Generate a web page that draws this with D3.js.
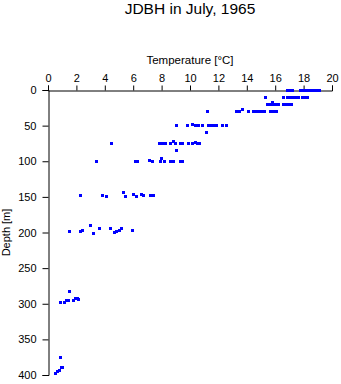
<!DOCTYPE html>
<html>
<head>
<meta charset="utf-8">
<script src="https://cdn.jsdelivr.net/npm/d3@7"></script>
<style>
  html, body { margin: 0; padding: 0; background: #fff; }
  svg { display: block; font-family: "Liberation Sans", Arial, Helvetica, sans-serif; }
</style>
</head>
<body>
<svg id="chart" width="341" height="384"></svg>
<script>
// Station JDBH temperature profile, July 1965
const title = "JDBH in July, 1965";
const xLabel = "Temperature [°C]";
const yLabel = "Depth [m]";
const tempTicks = [0, 2, 4, 6, 8, 10, 12, 14, 16, 18, 20];
const depthTicks = [0, 50, 100, 150, 200, 250, 300, 350, 400];

// Observations: temperature [°C] and depth [m], paired by index
const temperature = [
  // near surface
  16.9, 17.0, 17.25, 17.75, 17.95, 18.15, 18.35, 18.55, 18.75, 18.9, 19.1,
  // ~10 m
  15.35, 16.55, 16.85, 17.05, 17.25, 17.45, 17.65, 17.9, 18.1, 18.3,
  // ~20 m
  15.45, 15.65, 15.8, 15.85, 16.05, 16.25, 16.55, 16.75, 16.95, 17.15,
  // ~30 m
  11.2, 13.3, 13.5, 13.7, 14.1, 14.45, 14.65, 14.85, 15.0, 15.28, 15.7, 15.9, 16.1,
  // ~50 m
  9.05, 9.85, 10.2, 10.4, 10.6, 10.85, 11.3, 11.5, 11.7, 11.85, 12.3, 12.6, 11.15,
  // ~75 m
  4.45, 7.85, 8.05, 8.25, 8.6, 8.85, 9.0, 9.3, 9.45, 9.9, 10.2, 10.4, 10.55, 10.7, 9.05,
  // ~100 m
  3.45, 6.15, 6.3, 7.15, 7.35, 7.9, 8.0, 8.2, 8.65, 8.85, 9.3, 9.5,
  // ~150 m
  2.3, 3.85, 4.1, 5.3, 5.45, 6.05, 6.2, 6.55, 6.75, 7.2, 7.4,
  // ~200 m
  1.5, 2.3, 2.45, 2.97, 3.2, 3.65, 4.42, 4.65, 4.85, 5.0, 5.15, 5.95,
  // ~300 m
  1.5, 0.88, 1.15, 1.3, 1.45, 1.8, 1.95, 2.05, 2.15,
  // ~400 m
  0.85, 0.55, 0.7, 0.8, 0.95, 1.05
];
const depth = [
  0, 0, 0, 0, 0, 0, 0, 0, 0, 0, 0,
  10, 10, 10, 10, 10, 10, 10, 10, 10, 10,
  20, 20, 18, 20, 20, 20, 20, 20, 20, 20,
  30, 30, 30, 28, 30, 30, 30, 30, 30, 30, 30, 30, 30,
  50, 50, 48, 50, 50, 50, 50, 50, 50, 50, 50, 50, 60,
  75, 75, 75, 75, 75, 72, 75, 75, 75, 75, 75, 73, 75, 75, 85,
  100, 100, 100, 99, 100, 100, 96, 100, 100, 100, 100, 100,
  148, 148, 150, 144, 150, 146, 150, 146, 148, 148, 148,
  199, 199, 197, 190, 201, 195, 195, 200, 199, 197, 195, 197,
  283, 298, 298, 296, 296, 296, 292, 292, 294,
  376, 398, 395, 393, 390, 390
];

const svg = d3.select("#chart");
const margin = { left: 48, top: 90, right: 9, bottom: 9 };
const plotW = 332 - margin.left;
const plotH = 375 - margin.top;

const x = d3.scaleLinear().domain([0, 20]).range([0, plotW]);
const y = d3.scaleLinear().domain([0, 400]).range([0, plotH]);

const g = svg.append("g").attr("transform", `translate(${margin.left},${margin.top})`);

// Title
svg.append("text")
  .attr("x", margin.left + plotW / 2)
  .attr("y", 14)
  .attr("text-anchor", "middle")
  .attr("font-size", 15.5)
  .attr("fill", "#000")
  .text(title);

// Temperature axis on top
const xAxis = g.append("g")
  .attr("transform", "translate(0,0.5)")
  .call(d3.axisTop(x).tickValues(tempTicks).tickSize(5).tickPadding(4).tickFormat(d3.format("d")));
xAxis.selectAll("text").attr("font-size", 11).attr("fill", "#000").attr("font-family", "inherit");

// Depth axis on left
const yAxis = g.append("g")
  .attr("transform", "translate(0.5,0)")
  .call(d3.axisLeft(y).tickValues(depthTicks).tickSize(6).tickPadding(6).tickFormat(d3.format("d")));
yAxis.selectAll("text").attr("font-size", 11).attr("fill", "#000").attr("font-family", "inherit");

[xAxis, yAxis].forEach(a => {
  a.select(".domain").attr("stroke", "#000").attr("stroke-width", 1);
  a.selectAll(".tick line").attr("stroke", "#000").attr("stroke-width", 1);
});

// Axis titles
svg.append("text")
  .attr("x", margin.left + plotW / 2)
  .attr("y", 64)
  .attr("text-anchor", "middle")
  .attr("font-size", 11.5)
  .attr("fill", "#000")
  .text(xLabel);

svg.append("text")
  .attr("transform", `translate(10,${margin.top + plotH / 2}) rotate(-90)`)
  .attr("text-anchor", "middle")
  .attr("font-size", 11)
  .attr("fill", "#000")
  .text(yLabel);

// Observation markers
const pts = temperature.map((t, i) => ({ t, d: depth[i] }));
g.append("g")
  .selectAll("rect")
  .data(pts)
  .join("rect")
  .attr("x", p => Math.round(x(p.t) - 1.5))
  .attr("y", p => Math.round(y(p.d) - 1.5))
  .attr("width", 3)
  .attr("height", 3)
  .attr("fill", "#0000ff");
</script>
</body>
</html>
